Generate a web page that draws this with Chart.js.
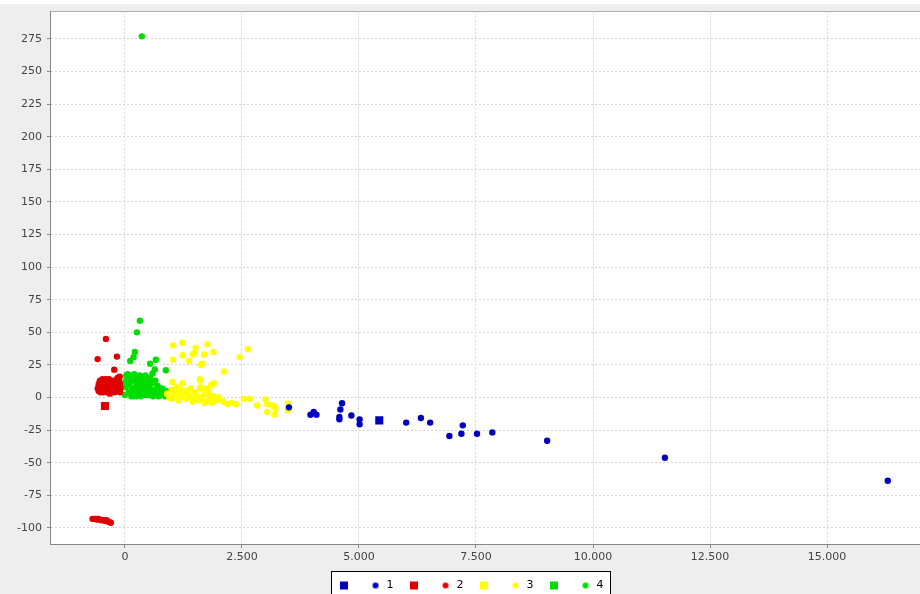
<!DOCTYPE html>
<html>
<head>
<meta charset="utf-8">
<script src="https://cdn.jsdelivr.net/npm/chart.js@4.4.1/dist/chart.umd.min.js"></script>
<style>
html,body{margin:0;padding:0;background:#fff;overflow:hidden;width:920px;height:594px;}
#myChart{position:absolute;left:0;top:0;}
</style>
</head>
<body>
<canvas id="myChart" width="930" height="601"></canvas>
<script>
// cluster centroids (squares) and members (dots)
const centroid1 = [[5434,-17.5]];
const cluster1 = [[3504,-7.5],[3964,-13.2],[4034,-11.1],[4092,-13.1],[4639,-4.4],[4603,-9.2],[4582,-14.9],[4582,-16.7],
    [4838,-13.8],[5014,-16.7],[5014,-20.5],[6009,-19.2],[6323,-15.7],[6521,-19.2],[6932,-29.5],[7188,-27.7],
    [7218,-21.3],[7522,-27.7],[7849,-26.7],[9020,-33.1],[11535,-46.2],[16296,-63.8]];

const centroid2 = [[-426,-6.5]];
const cluster2 = [[-560,5],[-540,9],[-530,13],[-510,6],[-490,11],[-470,4],[-460,8],[-440,12],[-420,6],[-400,10],
    [-390,4],[-370,13],[-350,7],[-330,11],[-310,5],[-300,9],[-280,13],[-260,6],[-240,10],[-220,4],[-210,8],
    [-190,12],[-170,5],[-160,15],[-150,9],[-130,6],[-120,12],[-110,16],[-105,4],[-540,12],[-500,8],[-450,5],
    [-360,9],[-250,12],[-180,7],[-560,10],[-580,7],[-520,4],[-480,14],[-430,9],[-410,14],[-380,7],[-340,14],
    [-320,3],[-290,6],[-270,10],[-230,13],[-200,5],[-140,13],[-100,10],[-95,7],
    [-405,45],[-582,29.5],[-170,31.4],[-228,21.4],
    [-690,-93],[-660,-93],[-630,-93],[-600,-93.5],[-570,-93],[-540,-93.5],[-510,-94],[-480,-94],[-450,-94],
    [-420,-94.5],[-390,-94],[-360,-95],[-330,-95.5],[-300,-96]];

const centroid3 = [[1750,6]];
const cluster3 = [[1029,40],[1229,42],[1029,29],[1229,32.5],[1370,28],[1513,38],[1477,34],[1455,33],[1690,33],
    [1762,41],[1890,35],[1620,25],[1656,26],[2116,20],[2451,31],[2628,37],[1016,12],[1229,11],[1598,14],
    [1620,8],[1833,9.5],[1903,11],[1605,13],[1869,10],[1605,7],
    [900,3],[950,0],[1000,-1],[1050,2],[1100,4],[1150,-2],[1200,1],[1250,3],[1300,-1],[1350,2],[1400,0],
    [1450,-3],[1477,-1],[1520,2],[1580,-2],[1640,0],[1700,-4],[1762,-3],[1820,-1],[1870,-4],[1950,-2],
    [2010,0],[2100,-3],[2188,-5],[2280,-4],[2380,-5],[2543,-1],[2671,-1],[2827,-6],[3005,-1.5],[3041,-5],
    [3147,-6],[3218,-8.5],[3041,-11],[3196,-13],[3480,-4.6],[3480,-10],[3182,-6.7],
    [1000,6],[1100,8],[1200,6],[1300,5],[1400,7],[1500,4],[1700,3],[1800,2],[1900,1]];

const centroid4 = [[330,7]];
const cluster4 = [[0,2],[20,8],[40,14],[60,18],[80,4],[100,11],[120,16],[140,1],[160,7],[180,13],[200,18],
    [220,3],[240,9],[260,15],[280,5],[300,12],[320,17],[340,1],[360,8],[380,14],[400,3],[420,10],[440,17],
    [460,6],[480,12],[500,2],[520,8],[540,15],[560,4],[580,11],[600,1],[620,6],[650,13],[680,3],[700,9],
    [720,1],[750,5],[780,2],[800,7],[830,3],[860,1],[880,5],[10,12],[70,10],[150,3],[250,1],[330,6],
    [450,2],[30,17],[110,17],[190,1],[270,10],
    [320,59],[256,50],[213,35],[185,31],[113,28],[539,26],[661,29],[639,21.5],[874,21],[590,18.5],
    [469,15.4],[362,277]];

const labels = ['', '1', '', '2', '', '3', '', '4'];
const colors = ['#0000c0', '#e00000', '#ffff00', '#00dd00'];
const xTicks = [0, 2500, 5000, 7500, 10000, 12500, 15000];
const yTicks = [-100, -75, -50, -25, 0, 25, 50, 75, 100, 125, 150, 175, 200, 225, 250, 275];

function pts(arr){
    return arr.map(p => ({x:p[0], y:p[1]}));
}

function dot(color){
    const c = document.createElement('canvas');
    c.width = 8; c.height = 8;
    const g = c.getContext('2d');
    g.fillStyle = color;
    g.beginPath();
    g.arc(4, 4, 3, 0, Math.PI*2);
    g.fill();
    return c;
}

function fmt(v){
    return String(v).replace(/\B(?=(\d{3})+(?!\d))/g, '.');
}

const groups = [[centroid1, cluster1], [centroid2, cluster2], [centroid3, cluster3], [centroid4, cluster4]];
const datasets = [];
groups.forEach((g, i) => {
    datasets.push({
        label: labels[i*2],
        data: pts(g[0]),
        backgroundColor: colors[i],
        borderColor: colors[i],
        pointStyle: 'rect',
        pointRadius: 5.7,
        borderWidth: 0,
        order: i >= 2 ? 20 : 0
    });
    datasets.push({
        label: labels[i*2+1],
        data: pts(g[1]),
        backgroundColor: colors[i],
        borderColor: colors[i],
        pointStyle: 'circle',
        pointRadius: 3.2,
        borderWidth: 0,
        order: 1 + i
    });
});

const plotBg = {
    id: 'plotBg',
    beforeDraw(chart){
        const {ctx, chartArea:a, width, height} = chart;
        ctx.save();
        ctx.fillStyle = '#eeeeee';
        ctx.fillRect(0, 0, width, height);
        ctx.fillStyle = '#ffffff';
        ctx.fillRect(0, 0, width, 4);
        ctx.fillRect(a.left, a.top, a.right - a.left, a.bottom - a.top);
        ctx.strokeStyle = '#b0b0b0';
        ctx.lineWidth = 1;
        ctx.beginPath();
        ctx.moveTo(a.left, Math.round(a.top) - 0.5);
        ctx.lineTo(a.right, Math.round(a.top) - 0.5);
        ctx.stroke();
        const boxes = chart.legend.legendHitBoxes;
        if (boxes && boxes.length){
            const first = boxes[0], last = boxes[boxes.length-1];
            const x0 = Math.round(first.left - 8) + 0.5;
            const x1 = Math.round(last.left + last.width + 7) + 0.5;
            const y0 = Math.round(chart.legend.top + 6) + 0.5;
            ctx.fillStyle = '#ffffff';
            ctx.fillRect(x0, y0, x1 - x0, height - y0 + 5);
            ctx.strokeStyle = '#000000';
            ctx.strokeRect(x0, y0, x1 - x0, height - y0 + 5);
        }
        ctx.restore();
    }
};

const tickFont = {family:'DejaVu Sans', size:11};

const conf = {
    type: 'scatter',
    data: {datasets: datasets},
    options: {
        responsive: false,
        animation: false,
        events: [],
        layout: {padding: {left:12, top:0, right:0, bottom:0}},
        scales: {
            x: {
                type: 'linear',
                min: -1579,
                max: 17076,
                afterBuildTicks: s => { s.ticks = xTicks.map(v => ({value:v})); },
                afterFit: s => { s.height = 21; },
                ticks: {callback: v => fmt(v), font: tickFont, color:'#444', padding:3, maxRotation:0},
                grid: {color:'#d6d6d6', tickColor:'#888', tickLength:4},
                border: {color:'#888', dash:[2,2]}
            },
            y: {
                type: 'linear',
                min: -112.3,
                max: 296,
                afterBuildTicks: s => { s.ticks = yTicks.map(v => ({value:v})); },
                ticks: {callback: v => String(v), font: tickFont, color:'#444', padding:5},
                grid: {color:'#d6d6d6', tickColor:'#888', tickLength:4},
                border: {color:'#888', dash:[2,2]}
            }
        },
        plugins: {
            tooltip: {enabled:false},
            legend: {
                display: true,
                position: 'bottom',
                labels: {
                    font: {family:'DejaVu Sans', size:11},
                    color: '#222',
                    usePointStyle: true,
                    boxWidth: 11,
                    boxHeight: 8,
                    padding: 15,
                    generateLabels: chart => chart.data.datasets.map((d, i) => ({
                        text: d.label,
                        fillStyle: d.backgroundColor,
                        strokeStyle: d.backgroundColor,
                        lineWidth: 0,
                        pointStyle: i % 2 === 0 ? 'rect' : dot(d.backgroundColor),
                        hidden: false,
                        datasetIndex: i
                    }))
                }
            }
        }
    },
    plugins: [plotBg]
};

const ctx = document.getElementById('myChart').getContext('2d');
const chart = new Chart(ctx, conf);
</script>
</body>
</html>
